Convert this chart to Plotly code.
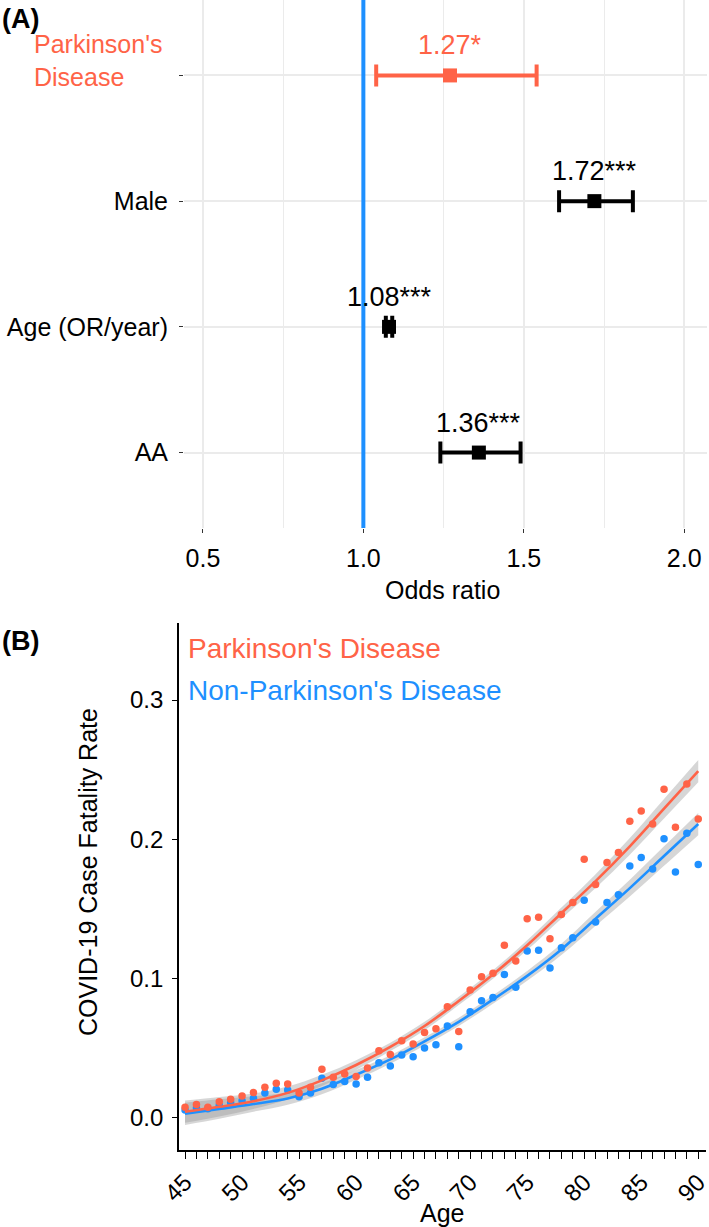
import plotly.graph_objects as go

FONT = "Liberation Sans, Arial, sans-serif"
RED = "#FF6347"
BLUE = "#1E90FF"
W, H = 709, 1227

# (A) odds ratios from the logistic model
terms = ["Parkinson's Disease", "Male", "Age (OR/year)", "AA"]
term_pos = [4, 3, 2, 1]
odds = [1.27, 1.72, 1.08, 1.36]
ci_lo = [1.04, 1.61, 1.07, 1.24]
ci_hi = [1.54, 1.84, 1.09, 1.49]
stars = ["*", "***", "***", "***"]
term_colors = [RED, "black", "black", "black"]
ref_or = 1.0
or_ticks = [0.5, 1.0, 1.5, 2.0]
or_minor = [0.75, 1.25, 1.75]

# (B) case fatality rate by age
ages = list(range(45, 91))
cfr_pd = [0.0077, 0.0096, 0.0077, 0.0117, 0.0134, 0.0158, 0.0182, 0.0220, 0.0249, 0.0244,
          0.0180, 0.0220, 0.0350, 0.0293, 0.0316, 0.0297, 0.0359, 0.0483, 0.0455, 0.0555,
          0.0531, 0.0613, 0.0641, 0.0799, 0.0621, 0.0919, 0.1014, 0.1038, 0.1240, 0.1126,
          0.1430, 0.1440, 0.1287, 0.1461, 0.1546, 0.1857, 0.1676, 0.1833, 0.1905, 0.2130,
          0.2204, 0.2111, 0.2360, 0.2087, 0.2398, 0.2146]
cfr_non = [0.0057, 0.0072, 0.0067, 0.0091, 0.0110, 0.0124, 0.0141, 0.0180, 0.0206, 0.0200,
           0.0153, 0.0180, 0.0285, 0.0240, 0.0261, 0.0244, 0.0292, 0.0397, 0.0373, 0.0452,
           0.0440, 0.0503, 0.0525, 0.0660, 0.0512, 0.0762, 0.0842, 0.0864, 0.1030, 0.0938,
           0.1199, 0.1204, 0.1077, 0.1222, 0.1293, 0.1563, 0.1407, 0.1546, 0.1603, 0.1809,
           0.1869, 0.1788, 0.2005, 0.1766, 0.2044, 0.1819]

# smoothed fits and half-width of the grey band
fit_age = [45, 48, 51, 54, 57, 60, 63, 66, 69, 72, 75, 78, 81, 84, 87, 90]
fit_pd = [0.0045, 0.008, 0.012, 0.018, 0.027, 0.038, 0.051, 0.066, 0.084, 0.103,
          0.124, 0.147, 0.170, 0.195, 0.222, 0.249]
band_pd = [0.008, 0.007, 0.0055, 0.0045, 0.004, 0.0035, 0.003, 0.003, 0.003, 0.003,
           0.0035, 0.004, 0.005, 0.006, 0.007, 0.008]
fit_non = [0.003, 0.0065, 0.010, 0.014, 0.021, 0.031, 0.042, 0.055, 0.069, 0.085,
           0.102, 0.121, 0.143, 0.165, 0.188, 0.211]
band_non = [0.008, 0.007, 0.0055, 0.0045, 0.004, 0.0035, 0.003, 0.003, 0.003, 0.003,
            0.0035, 0.004, 0.005, 0.006, 0.007, 0.008]
age_ticks = list(range(45, 91, 5))
cfr_ticks = [0.0, 0.1, 0.2, 0.3]


def px_x(p):
    return p / W


def px_y(p):
    return 1 - p / H


fig = go.Figure()

# ---- panel A
for i in range(len(terms)):
    fig.add_trace(go.Scatter(
        x=[odds[i]], y=[term_pos[i]], mode="markers",
        marker=dict(symbol="square", size=14, color=term_colors[i]),
        error_x=dict(type="data", symmetric=False,
                     array=[ci_hi[i] - odds[i]], arrayminus=[odds[i] - ci_lo[i]],
                     color=term_colors[i], thickness=4, width=11),
        xaxis="x", yaxis="y", showlegend=False, hoverinfo="skip"))
    fig.add_annotation(x=odds[i], y=term_pos[i], xref="x", yref="y", yshift=30,
                       text=f"{odds[i]:.2f}{stars[i]}", showarrow=False,
                       font=dict(size=27, color=term_colors[i], family=FONT))

fig.add_vline(x=ref_or, line=dict(color=BLUE, width=4), xref="x", yref="y")


# ---- panel B
def band(fit, half):
    up = [f + h for f, h in zip(fit, half)]
    lo = [f - h for f, h in zip(fit, half)]
    fig.add_trace(go.Scatter(x=fit_age, y=lo, mode="lines", line=dict(width=0, shape="spline"),
                             xaxis="x2", yaxis="y2", showlegend=False, hoverinfo="skip"))
    fig.add_trace(go.Scatter(x=fit_age, y=up, mode="lines", line=dict(width=0, shape="spline"),
                             fill="tonexty", fillcolor="rgba(153,153,153,0.4)",
                             xaxis="x2", yaxis="y2", showlegend=False, hoverinfo="skip"))


band(fit_pd, band_pd)
band(fit_non, band_non)

for vals, fit, col in [(cfr_non, fit_non, BLUE), (cfr_pd, fit_pd, RED)]:
    fig.add_trace(go.Scatter(x=fit_age, y=fit, mode="lines",
                             line=dict(color=col, width=2.6, shape="spline"),
                             xaxis="x2", yaxis="y2", showlegend=False))
    fig.add_trace(go.Scatter(x=ages, y=vals, mode="markers",
                             marker=dict(size=7.5, color=col),
                             xaxis="x2", yaxis="y2", showlegend=False))

tickfont = dict(size=25, color="black", family=FONT)

fig.update_layout(
    width=W, height=H, margin=dict(l=0, r=0, t=0, b=0, autoexpand=False),
    paper_bgcolor="white", plot_bgcolor="white",
    font=dict(family=FONT, color="black"),
    xaxis=dict(domain=[px_x(184), px_x(707)], range=[0.441, 2.071], anchor="y",
               tickvals=or_ticks, ticktext=[f"{v:.1f}" for v in or_ticks],
               ticks="outside", ticklen=4, tickcolor="#333", tickwidth=1,
               showgrid=True, gridcolor="#EBEBEB", gridwidth=1.5,
               minor=dict(tickvals=or_minor, showgrid=True, gridcolor="#EBEBEB", gridwidth=0.8),
               zeroline=False, showline=False, tickfont=tickfont, ticklabelstandoff=4,
               automargin=False),
    yaxis=dict(domain=[px_y(528), 1], range=[0.4, 4.6], anchor="x",
               tickvals=term_pos, ticktext=[""] + terms[1:],
               ticks="outside", ticklen=4, tickcolor="#333", tickwidth=1,
               showgrid=True, gridcolor="#EBEBEB", gridwidth=1.5,
               zeroline=False, showline=False, tickfont=tickfont, ticklabelstandoff=6,
               automargin=False),
    xaxis2=dict(domain=[px_x(179), px_x(706)], range=[44.47, 90.68], anchor="y2",
                tickvals=age_ticks, tickangle=-45, ticklabeloverflow="allow",
                ticks="outside", ticklen=7, tickcolor="black", tickwidth=1.3,
                minor=dict(dtick=1, tick0=45, ticks="outside", ticklen=7,
                           tickcolor="black", tickwidth=1.3, showgrid=False),
                showline=True, linecolor="black", linewidth=1.6,
                showgrid=False, zeroline=False, tickfont=dict(size=24, color="black", family=FONT),
                automargin=False),
    yaxis2=dict(domain=[px_y(1150), px_y(623)], range=[-0.023, 0.3553], anchor="x2",
                tickvals=cfr_ticks, ticktext=[f"{v:.1f}" for v in cfr_ticks],
                ticks="outside", ticklen=5, tickcolor="black", tickwidth=1.3,
                showline=True, linecolor="black", linewidth=1.6,
                showgrid=False, zeroline=False, tickfont=dict(size=24, color="black", family=FONT),
                ticklabelstandoff=4, automargin=False),
)

# labels and titles
fig.add_annotation(x=px_x(164), y=px_y(61), xref="paper", yref="paper",
                   xanchor="right", yanchor="middle", align="left", showarrow=False,
                   text="Parkinson's<br>Disease", font=dict(size=25, color=RED, family=FONT))
fig.add_annotation(x=0, y=px_y(2), xref="paper", yref="paper", xanchor="left", yanchor="top",
                   text="<b>(A)</b>", showarrow=False, font=dict(size=27, color="black", family=FONT))
fig.add_annotation(x=0, y=px_y(624), xref="paper", yref="paper", xanchor="left", yanchor="top",
                   text="<b>(B)</b>", showarrow=False, font=dict(size=27, color="black", family=FONT))
fig.add_annotation(x=px_x(442), y=px_y(590), xref="paper", yref="paper",
                   xanchor="center", yanchor="middle",
                   text="Odds ratio", showarrow=False, font=dict(size=25, color="black", family=FONT))
fig.add_annotation(x=px_x(442), y=px_y(1213), xref="paper", yref="paper",
                   xanchor="center", yanchor="middle",
                   text="Age", showarrow=False, font=dict(size=25, color="black", family=FONT))
fig.add_annotation(x=px_x(88), y=px_y(872), xref="paper", yref="paper", textangle=-90,
                   xanchor="center", yanchor="middle",
                   text="COVID-19 Case Fatality Rate", showarrow=False,
                   font=dict(size=25, color="black", family=FONT))
fig.add_annotation(x=px_x(186), y=px_y(648), xref="paper", yref="paper", xanchor="left",
                   yanchor="middle", text="Parkinson's Disease", showarrow=False,
                   font=dict(size=28, color=RED, family=FONT))
fig.add_annotation(x=px_x(186), y=px_y(690), xref="paper", yref="paper", xanchor="left",
                   yanchor="middle", text="Non-Parkinson's Disease", showarrow=False,
                   font=dict(size=28, color=BLUE, family=FONT))

fig.write_html("out.html", config={"displayModeBar": False},
               post_script="document.body.style.margin='0';")
